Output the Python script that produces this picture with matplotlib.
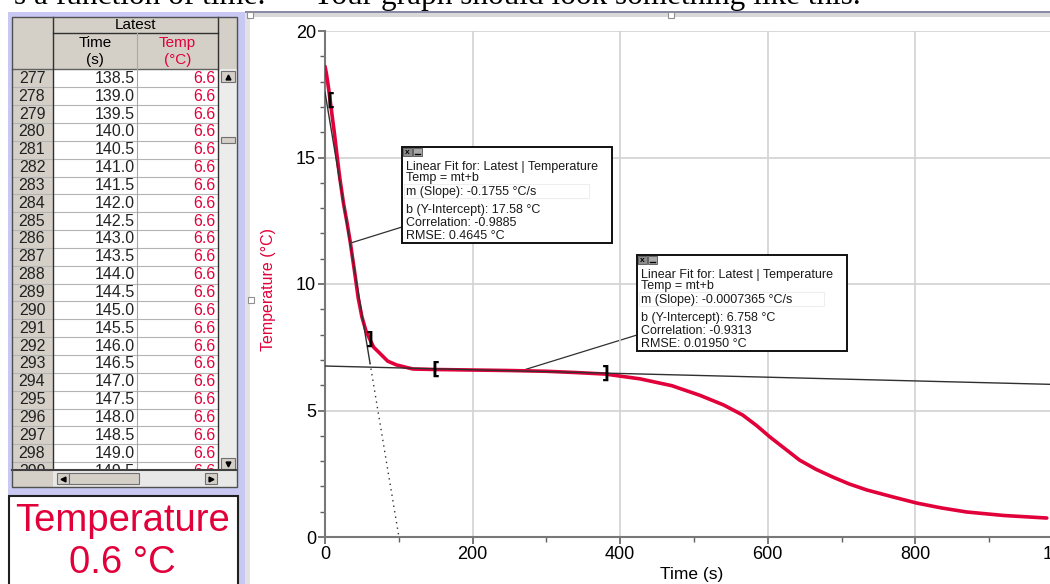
import numpy as np
import matplotlib.pyplot as plt
from matplotlib import font_manager
from matplotlib.patches import Rectangle, ConnectionPatch

# cooling run
time_s = [0, 2, 5, 9, 13, 17, 20, 25, 30, 34, 40, 45, 50, 56, 61, 66, 74, 85, 97,
          119, 150, 200, 250, 300, 340, 380, 427, 470, 508, 540, 566, 585, 603,
          625, 643, 665, 688, 710, 734, 770, 802, 835, 869, 920, 978]
temp_c = [18.6, 18.3, 17.7, 16.8, 15.9, 14.9, 14.2, 13.2, 12.4, 11.7, 10.5, 9.45,
          8.7, 8.1, 7.8, 7.5, 7.27, 6.95, 6.8, 6.64, 6.62, 6.6, 6.58, 6.55, 6.5,
          6.44, 6.25, 5.98, 5.6, 5.22, 4.82, 4.4, 3.95, 3.45, 3.04, 2.68, 2.37,
          2.1, 1.86, 1.58, 1.34, 1.15, 0.99, 0.85, 0.75]

# the two linear fits
fit_slope = [-0.1755, -0.0007365]
fit_intercept = [17.58, 6.758]
fit_corr = [-0.9885, -0.9313]
fit_rmse = ["0.4645", "0.01950"]
fit_start = [7, 150]
fit_end = [61, 380]

# data table rows shown on the left
row_num = [277, 278, 279, 280, 281, 282, 283, 284, 285, 286, 287, 288,
           289, 290, 291, 292, 293, 294, 295, 296, 297, 298, 299]
row_time = [138.5, 139.0, 139.5, 140.0, 140.5, 141.0, 141.5, 142.0, 142.5,
            143.0, 143.5, 144.0, 144.5, 145.0, 145.5, 146.0, 146.5, 147.0,
            147.5, 148.0, 148.5, 149.0, 149.5]
row_temp = [6.6, 6.6, 6.6, 6.6, 6.6, 6.6, 6.6, 6.6, 6.6, 6.6, 6.6, 6.6,
            6.6, 6.6, 6.6, 6.6, 6.6, 6.6, 6.6, 6.6, 6.6, 6.6, 6.6]
meter_value = 0.6

x_ticks = [0, 200, 400, 600, 800, 1000]
y_ticks = [0, 5, 10, 15, 20]

RED = '#e2003a'
GRAY = '#d4d0c8'
LAV = '#c8c8f2'
SANS = ['Liberation Sans', 'DejaVu Sans']

# axis text in the screenshot is a narrow face; use one if installed
have = {f.name for f in font_manager.fontManager.ttflist}
narrow = [n for n in ['Liberation Sans Narrow', 'DejaVu Sans Condensed'] if n in have]
plt.rcParams['font.family'] = narrow + ['Liberation Sans', 'DejaVu Sans']
tick_size = 14.5 if narrow else 13

W, H = 1050, 584
fig = plt.figure(figsize=(10.5, 5.84), dpi=100)


def pixel_axes(z):
    a = fig.add_axes([0, 0, 1, 1])
    a.set_xlim(0, W)
    a.set_ylim(H, 0)
    a.axis('off')
    a.set_zorder(z)
    a.patch.set_alpha(0)
    return a


def rect(a, x, y, w, h, fc, ec='none', lw=0, z=1):
    a.add_patch(Rectangle((x, y), w, h, facecolor=fc, edgecolor=ec,
                          linewidth=lw, zorder=z, clip_on=False))


bg = pixel_axes(0)

# page text cut at the top
bg.text(265, 4, "s a function of time.", ha='right', va='baseline',
        fontsize=22.5, family='Liberation Serif', clip_on=False)
bg.text(312, 4, "Your graph should look something like this.", ha='left',
        va='baseline', fontsize=22.5, family='Liberation Serif', clip_on=False)

# window frame
rect(bg, 8, 12, 237, 572, LAV)
rect(bg, 250, 12, 800, 572, 'white')
rect(bg, 245, 11, 805, 2, '#8a8aa6')
rect(bg, 245, 13, 805, 4, '#d8d8d8')
rect(bg, 245, 13, 5, 571, '#e2e2e2')
for hx, hy in [(247, 12), (668, 12), (248, 297)]:
    rect(bg, hx, hy, 6, 6, 'white', '#909090', 0.8, z=3)

# table
top, head_bot, pitch = 17, 69.4, 17.85
rect(bg, 12, top, 225, 470 - top, 'white')
rect(bg, 12, top, 225, head_bot - top, GRAY)
rect(bg, 12, head_bot, 41, 470 - head_bot, GRAY)
rect(bg, 218, head_bot, 19, 470 - head_bot, '#ececec')
bg.text(135, 25, "Latest", ha='center', va='center', fontsize=11, family=SANS)
bg.text(95, 43, "Time", ha='center', va='center', fontsize=11, family=SANS)
bg.text(95, 60, "(s)", ha='center', va='center', fontsize=11, family=SANS)
bg.text(177, 43, "Temp", ha='center', va='center', fontsize=11, family=SANS, color=RED)
bg.text(178, 60, "(°C)", ha='center', va='center', fontsize=11, family=SANS, color=RED)
for i, (n, t, T) in enumerate(zip(row_num, row_time, row_temp)):
    yc = head_bot + (i + 0.5) * pitch
    bg.text(32, yc, str(n), ha='center', va='center', fontsize=11.5, family=SANS, color='#222222')
    bg.text(135, yc, f"{t:.1f}", ha='right', va='center', fontsize=11.5, family=SANS, color='#222222')
    bg.text(216, yc, f"{T:.1f}", ha='right', va='center', fontsize=11.5, family=SANS, color=RED)
    bg.plot([12, 218], [head_bot + (i + 1) * pitch] * 2, color='#b4b4b4', lw=0.8, zorder=2)
bg.plot([53, 218], [33, 33], color='#303030', lw=1, zorder=2)
bg.plot([12, 218], [head_bot, head_bot], color='#606060', lw=1, zorder=2)
bg.plot([137, 137], [33, 470], color='#a8a8a8', lw=0.8, zorder=2)
for cx in [53, 218]:
    bg.plot([cx, cx], [top, 470], color='#303030', lw=1, zorder=2)
# vertical scrollbar
rect(bg, 221, 71, 14, 11, GRAY, '#707070', 0.8, z=3)
bg.plot([228], [76.5], marker='^', color='black', ms=3.5, zorder=4)
rect(bg, 221, 137, 14, 6, GRAY, '#707070', 0.8, z=3)
rect(bg, 221, 458, 14, 11, GRAY, '#707070', 0.8, z=3)
bg.plot([228], [463.5], marker='v', color='black', ms=3.5, zorder=4)
# horizontal scrollbar
rect(bg, 12, 470, 225, 17, '#e8e8e8', z=5)
rect(bg, 12, 470, 41, 17, GRAY, z=5)
bg.plot([12, 237], [470, 470], color='#404040', lw=1.5, zorder=6)
rect(bg, 57, 473, 12, 11, GRAY, '#707070', 0.8, z=6)
bg.plot([63], [478.5], marker='<', color='black', ms=3.5, zorder=7)
rect(bg, 69, 473, 70, 11, GRAY, '#707070', 0.8, z=6)
rect(bg, 205, 473, 12, 11, GRAY, '#707070', 0.8, z=6)
bg.plot([211], [478.5], marker='>', color='black', ms=3.5, zorder=7)
rect(bg, 12, top, 225, 487 - top, 'none', '#505050', 1, z=6)

# meter
rect(bg, 9, 496, 229, 95, 'white', '#202020', 1.5, z=2)
bg.text(123, 521, "Temperature", ha='center', va='center', fontsize=27.5,
        family=SANS, color=RED, zorder=3)
bg.text(122, 563, f"{meter_value} °C", ha='center', va='center', fontsize=27.5,
        family=SANS, color=RED, zorder=3)

# graph
ax = fig.add_axes([325 / W, 47 / H, 738 / W, 506 / H])
ax.set_zorder(1)
ax.patch.set_alpha(0)
ax.set_xlim(0, 1000)
ax.set_ylim(0, 20)
ax.set_xticks(x_ticks)
ax.set_yticks(y_ticks)
ax.set_xticks(np.arange(100, 1000, 200), minor=True)
ax.set_yticks(np.arange(0, 21, 1), minor=True)
ax.grid(True, which='major', color='#d2d2d2', lw=1.2)
for s in ['top', 'right']:
    ax.spines[s].set_visible(False)
for s in ['left', 'bottom']:
    ax.spines[s].set_color('#787878')
    ax.spines[s].set_linewidth(1.5)
ax.tick_params(which='major', length=5, width=1.2, color='#606060',
               labelsize=tick_size, pad=1.5)
ax.tick_params(which='minor', length=3.5, width=1, color='#606060')
ax.set_xlabel("Time (s)", fontsize=tick_size - 0.5)
ax.set_ylabel("Temperature (°C)", fontsize=12.5 if narrow else 11.5, color=RED)
ax.xaxis.set_label_coords(0.497, -0.075)
ax.xaxis.label.set_va('center')
ax.yaxis.set_label_coords(-0.077, 0.49)
ax.yaxis.label.set_va('center')

ax.plot(time_s, temp_c, color=RED, lw=2.6, zorder=3, solid_capstyle='round')

ov = pixel_axes(3)
for k in range(2):
    m, b = fit_slope[k], fit_intercept[k]
    if k == 0:
        ts = np.array([0, fit_end[0]])
        ax.plot(ts, m * ts + b, color='#303030', lw=1, zorder=4)
        td = np.array([fit_end[0], -b / m])
        ax.plot(td, m * td + b, color='#303030', lw=1, ls=(0, (1, 3)), zorder=4)
    else:
        ts = np.array([0, 1000])
        ax.plot(ts, m * ts + b, color='#303030', lw=1, zorder=4)
    for tb, ch in [(fit_start[k], '['), (fit_end[k], ']')]:
        ax.text(tb, np.interp(tb, time_s, temp_c), ch, ha='center', va='center',
                fontsize=12.5, fontweight='bold', family='DejaVu Sans', zorder=5)

# fit boxes
box_pos = [(402, 147), (637, 255)]
for k, (bx, by) in enumerate(box_pos):
    rect(ov, bx, by, 210, 96, 'white', '#101010', 1.4, z=2)
    rect(ov, bx + 2, by + 37, 185, 14, 'white', '#eeeeee', 0.8, z=2)
    rect(ov, bx + 1, by + 1, 9, 8, '#8c8c8c', '#505050', 0.6, z=3)
    rect(ov, bx + 11, by + 1, 9, 8, '#a8a8a8', '#505050', 0.6, z=3)
    ov.text(bx + 5.5, by + 5.2, "x", ha='center', va='center', fontsize=6,
            family=SANS, fontweight='bold', zorder=4)
    ov.plot([bx + 13, bx + 18], [by + 7, by + 7], color='black', lw=1, zorder=4)
    lines = ["Linear Fit for: Latest | Temperature", "Temp = mt+b",
             f"m (Slope): {fit_slope[k]} °C/s",
             f"b (Y-Intercept): {fit_intercept[k]} °C",
             f"Correlation: {fit_corr[k]}", f"RMSE: {fit_rmse[k]} °C"]
    for line, dy in zip(lines, [20, 31, 45, 63, 76, 89]):
        ov.text(bx + 4, by + dy, line, ha='left', va='center', fontsize=9,
                family=SANS, color='#1a1a1a', zorder=4)
    tm = (fit_start[k] + fit_end[k]) / 2
    con = ConnectionPatch(xyA=(bx, by + 80), coordsA=ov.transData,
                          xyB=(tm, fit_slope[k] * tm + fit_intercept[k]),
                          coordsB=ax.transData, color='#303030', lw=0.9)
    con.set_zorder(1)
    fig.add_artist(con)

fig.savefig("out.png", dpi=100)
